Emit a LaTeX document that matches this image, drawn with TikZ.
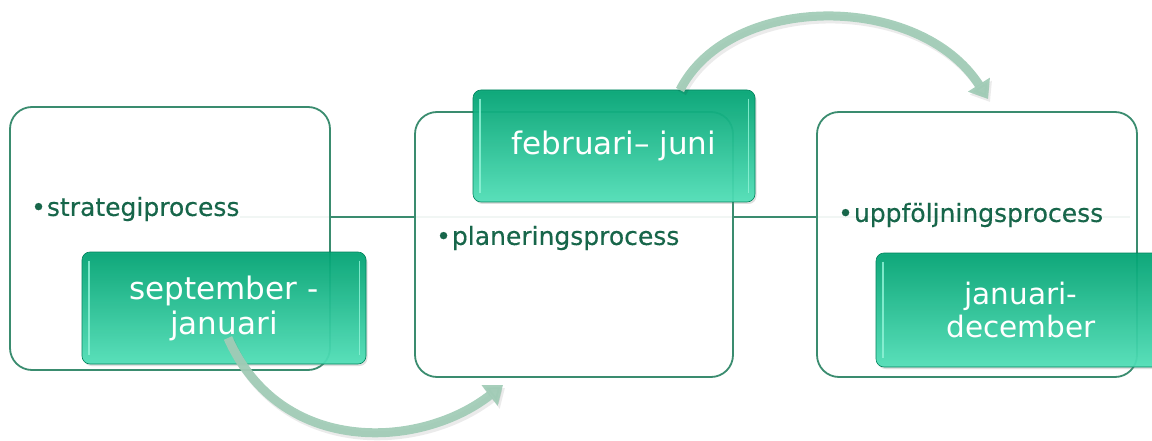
\documentclass[tikz,border=0pt]{standalone}
\usepackage{fontspec}
\setmainfont{DejaVu Sans}
\newfontfamily\heavier[FakeBold=0.35]{DejaVu Sans}
\usetikzlibrary{arrows.meta,shadows}
\definecolor{boxline}{HTML}{3A8C6F}
\definecolor{txtgreen}{HTML}{17664A}
\definecolor{gtop}{HTML}{00A473}
\definecolor{gbot}{HTML}{50E0B8}
\definecolor{arrowc}{HTML}{A2CCB7}
\definecolor{bevelc}{HTML}{8FF2D6}
\tikzset{
  whitebox/.style={draw=boxline, line width=1.8pt, fill=white, fill opacity=0.93, draw opacity=1, rounded corners=22pt, inner sep=0pt},
  greenbox/.style={top color=gtop, bottom color=gbot, draw=gtop!80!black, line width=0.6pt, rounded corners=8pt,
     fill opacity=0.93, text opacity=1, inner sep=0pt, text=white, align=center,
     drop shadow={opacity=0.25, shadow xshift=1.5pt, shadow yshift=-2pt}},
  bullettext/.style={text=txtgreen, anchor=west, inner sep=0pt, font=\heavier\fontsize{25}{30}\selectfont},
  connector/.style={draw=boxline, line width=1.8pt},
  bigarrow/.style={draw=arrowc, line width=9pt, opacity=0.95, -{Triangle[width=25pt,length=17pt]}},
  arrowshadow/.style={draw=black, line width=9pt, opacity=0.08, -{Triangle[width=25pt,length=17pt]}},
  bevel/.style={draw=bevelc, line width=1.6pt, opacity=0.85}
}
\begin{document}
\begin{tikzpicture}[x=1pt,y=-1pt]
\useasboundingbox (0,0) rectangle (1152,441);
% connector line (shows faintly through the white boxes)
\coordinate (l1) at (240,217);
\coordinate (l3) at (1130,217);
\draw[connector] (l1) -- (l3);
% boxes (white)
\node[whitebox, minimum width=320pt, minimum height=263pt] (b1) at (170,238.5) {};
\node[whitebox, minimum width=318pt, minimum height=265pt] (b2) at (574,244.5) {};
\node[whitebox, minimum width=320pt, minimum height=265pt] (b3) at (977,244.5) {};
% texts
\node[bullettext] (t1) at (31,209) {•\kern1pt strategiprocess};
\node[bullettext] (t2) at (436,238) {•\kern1pt planeringsprocess};
\node[bullettext] (t3) at (838,215) {•\kern1pt uppföljningsprocess};
% green boxes
\node[greenbox, minimum width=284pt, minimum height=112pt, font=\fontsize{31}{35}\selectfont] (g1) at (224,308) {september -\\januari};
\node[greenbox, minimum width=282pt, minimum height=112pt, font=\fontsize{31}{35}\selectfont] (g2) at (614,146) {februari– juni};
\node[greenbox, minimum width=290pt, minimum height=114pt, font=\fontsize{29.5}{33}\selectfont] (g3) at (1021,310) {januari-\\december};
\foreach \g in {g1,g2,g3}{
  \draw[bevel] ([xshift=7pt,yshift=-9pt]\g.north west) -- ([xshift=7pt,yshift=9pt]\g.south west);
  \draw[bevel] ([xshift=-7pt,yshift=-9pt]\g.north east) -- ([xshift=-7pt,yshift=9pt]\g.south east);
}
% arrows
\coordinate (a1s) at (228,338);
\coordinate (a1e) at (503,385);
\coordinate (a2s) at (680,90);
\coordinate (a2e) at (988,99);
\draw[arrowshadow] ([xshift=2pt,yshift=-3pt]a1s) .. controls ([xshift=2pt,yshift=-3pt]280,456) and ([xshift=2pt,yshift=-3pt]420,450) .. ([xshift=2pt,yshift=-3pt]a1e);
\draw[bigarrow] (a1s) .. controls (280,456) and (420,450) .. (a1e);
\draw[arrowshadow] ([xshift=2pt,yshift=-3pt]a2s) .. controls ([xshift=2pt,yshift=-3pt]730,-8) and ([xshift=2pt,yshift=-3pt]920,-8) .. ([xshift=2pt,yshift=-3pt]a2e);
\draw[bigarrow] (a2s) .. controls (730,-8) and (920,-8) .. (a2e);
\end{tikzpicture}
\end{document}
